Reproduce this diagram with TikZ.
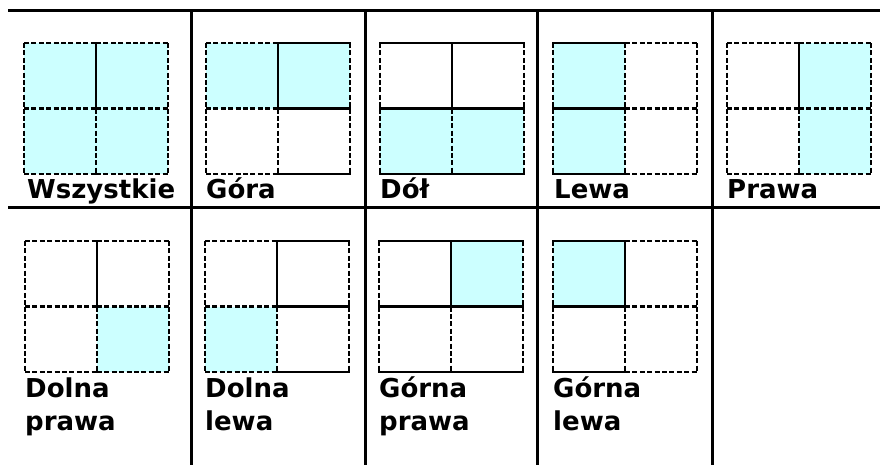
\documentclass[tikz,border=0pt]{standalone}
\usepackage{fontspec}
\setmainfont{DejaVu Sans}
\definecolor{cyanfill}{HTML}{CCFFFF}
\tikzset{
  tbl/.style={line width=3pt, line cap=rect},
  lnS/.style={line width=2.6pt, line cap=rect},
  lnD/.style={line width=2.4pt, dash pattern=on 5pt off 2.4pt},
  lbl/.style={anchor=base west, inner sep=0pt, font=\bfseries\fontsize{26}{30}\selectfont},
}
\newcommand\hsegs[6]{%
  \draw[#1] (0,0)--(72,0); \draw[#2] (72,0)--(144,0);
  \draw[#3] (0,65.5)--(72,65.5); \draw[#4] (72,65.5)--(144,65.5);
  \draw[#5] (0,131)--(72,131); \draw[#6] (72,131)--(144,131);}
\newcommand\vsegs[6]{%
  \draw[#1] (0,0)--(0,65.5); \draw[#2] (0,65.5)--(0,131);
  \draw[#3] (72,0)--(72,65.5); \draw[#4] (72,65.5)--(72,131);
  \draw[#5] (144,0)--(144,65.5); \draw[#6] (144,65.5)--(144,131);}
\newcommand\cf[2]{\fill[cyanfill] (#1*72,#2*65.5) rectangle ++(72,65.5);}
\begin{document}
\begin{tikzpicture}[x=1pt,y=-1pt]
\useasboundingbox (0,0) rectangle (880,464);
% table lines
\draw[tbl] (9,10) -- (880,10);
\draw[tbl] (9,207) -- (880,207);
\foreach \xx in {191,365,537,712} \draw[tbl] (\xx,10) -- (\xx,464);
% 1 Wszystkie
\begin{scope}[shift={(24,43)}]
 \cf00\cf10\cf01\cf11
 \hsegs{lnD}{lnD}{lnD}{lnD}{lnD}{lnD}
 \vsegs{lnD}{lnD}{lnS}{lnD}{lnD}{lnD}
\end{scope}
% 2 Gora
\begin{scope}[shift={(206,43)}]
 \cf00\cf10
 \hsegs{lnD}{lnS}{lnD}{lnS}{lnD}{lnS}
 \vsegs{lnD}{lnD}{lnS}{lnD}{lnD}{lnD}
\end{scope}
% 3 Dol
\begin{scope}[shift={(380,43)}]
 \cf01\cf11
 \vsegs{lnD}{lnD}{lnS}{lnD}{lnD}{lnD}
 \hsegs{lnS}{lnS}{lnS}{lnS}{lnS}{lnS}
\end{scope}
% 4 Lewa
\begin{scope}[shift={(553,43)}]
 \cf00\cf01
 \vsegs{lnD}{lnD}{lnD}{lnD}{lnD}{lnD}
 \hsegs{lnS}{lnD}{lnS}{lnD}{lnS}{lnD}
\end{scope}
% 5 Prawa
\begin{scope}[shift={(727,43)}]
 \cf10\cf11
 \hsegs{lnD}{lnD}{lnD}{lnD}{lnD}{lnD}
 \vsegs{lnD}{lnD}{lnS}{lnD}{lnD}{lnD}
\end{scope}
% 6 Dolna prawa
\begin{scope}[shift={(25,241)}]
 \cf11
 \hsegs{lnD}{lnD}{lnD}{lnD}{lnD}{lnD}
 \vsegs{lnD}{lnD}{lnS}{lnD}{lnD}{lnD}
\end{scope}
% 7 Dolna lewa
\begin{scope}[shift={(205,241)}]
 \cf01
 \vsegs{lnD}{lnD}{lnS}{lnD}{lnD}{lnD}
 \hsegs{lnD}{lnS}{lnD}{lnS}{lnD}{lnS}
\end{scope}
% 8 Gorna prawa
\begin{scope}[shift={(379,241)}]
 \cf10
 \vsegs{lnD}{lnD}{lnS}{lnD}{lnD}{lnD}
 \hsegs{lnS}{lnS}{lnS}{lnS}{lnS}{lnS}
\end{scope}
% 9 Gorna lewa
\begin{scope}[shift={(553,241)}]
 \cf00
 \vsegs{lnD}{lnD}{lnS}{lnD}{lnD}{lnD}
 \hsegs{lnS}{lnD}{lnS}{lnD}{lnS}{lnD}
\end{scope}
% labels
\node[lbl] (t1) at (27,198) {Wszystkie};
\node[lbl] (t2) at (206,198) {Góra};
\node[lbl] (t3) at (380,198) {Dół};
\node[lbl] (t4) at (554,198) {Lewa};
\node[lbl] (t5) at (727,198) {Prawa};
\node[lbl] (t6a) at (25,397) {Dolna};
\node[lbl] (t6b) at (25,430) {prawa};
\node[lbl] (t7a) at (205,397) {Dolna};
\node[lbl] (t7b) at (205,430) {lewa};
\node[lbl] (t8a) at (379,397) {Górna};
\node[lbl] (t8b) at (379,430) {prawa};
\node[lbl] (t9a) at (553,397) {Górna};
\node[lbl] (t9b) at (553,430) {lewa};
\end{tikzpicture}
\end{document}
